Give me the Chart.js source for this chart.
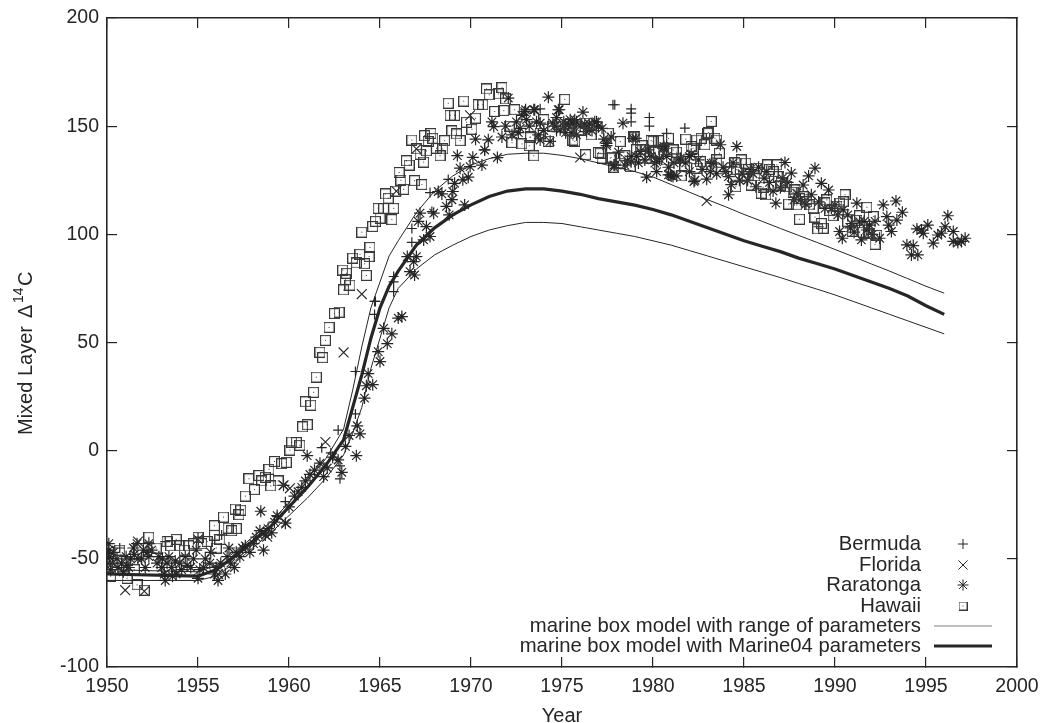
<!DOCTYPE html>
<html>
<head>
<meta charset="utf-8">
<title>Mixed Layer D14C</title>
<script src="https://cdn.jsdelivr.net/npm/chart.js@4"></script>
<style>
  html, body { margin: 0; padding: 0; background: #fff; }
  #box { width: 1045px; height: 723px; }
</style>
</head>
<body>
<div id="box"><canvas id="chart" width="1045" height="723"></canvas></div>
<script>
// values, [year, value]
const bermuda = [[1950.7,-45],[1953.2,-42],[1955,-40],[1956.3,-39],[1959.35,-30.5],[1959.8,-23.6],[1961.8,1.4],[1962.3,-1],[1962.7,9.5],[1962.8,-13],[1962.8,-7],
  [1963.65,17],[1963.65,36.6],[1964.7,63],[1964.7,69],[1964.75,69],[1965.75,73.5],[1965.75,78],[1965.75,80.5],[1966.75,96.3],[1966.75,102.7],[1967.75,119.3],[1967.85,110.5],
  [1968.75,125.4],[1970.75,139],[1973.8,158],[1974.7,147.5],[1977.8,159.9],[1977.9,159.9],[1978.8,152],[1978.8,156],[1978.8,158],[1979.8,150],[1979.8,154],[1980.75,142],[1980.75,146.7],[1981.75,149.1],[1989.1,103.5]];

const florida = [[1951,-64.5],[1951.7,-42],[1952.05,-65],[1955,-41],[1956.1,-57],[1958.8,-39.8],[1959.7,-16],[1959.85,-33.6],[1960.05,-17.4],[1962,4],[1963,45.4],[1964,72.4],
  [1965.9,120],[1967,139.5],[1969.95,155],[1976,135.5],[1977.85,131],[1982.95,115.4]];

const raratonga = [[1950,-47.5],[1950.05,-52],[1950.1,-43],[1950.1,-46],[1950.15,-49],[1950.2,-55],[1950.3,-52],[1950.35,-47],[1950.55,-50],[1950.6,-54],[1950.8,-52],[1950.9,-56],[1951.05,-49],[1951.1,-53],[1951.2,-54],[1951.3,-50],[1951.45,-45],[1951.5,-48],[1951.65,-43],[1951.7,-50],[1951.9,-50],[1952,-46],[1952.1,-54],[1952.2,-47],[1952.3,-43],[1952.3,-49],[1952.45,-46],
  [1952.75,-52],[1952.85,-49],[1953,-54],[1953.05,-50],[1953.15,-57],[1953.2,-60],[1953.3,-52],[1953.4,-49],[1953.55,-54],[1953.6,-58],[1953.75,-51],[1953.8,-57],[1954,-52],[1954.1,-55],[1954.3,-49],[1954.4,-53],[1954.6,-54],[1954.75,-50],[1954.9,-46],[1955,-59],[1955.1,-55],[1955.3,-54],[1955.4,-50],[1955.65,-52],[1955.7,-47],[1955.9,-57],[1956,-54],[1956.1,-60],[1956.25,-52],[1956.5,-57],[1956.6,-49],[1956.7,-45],[1956.8,-52],
  [1957,-54],[1957.1,-47],[1957.3,-49],[1957.45,-45],[1957.6,-44],[1957.85,-47],[1958.05,-43],[1958.2,-40],[1958.4,-37],[1958.45,-28],[1958.6,-46],[1958.7,-39],[1958.85,-36],[1959.05,-38],[1959.2,-33],[1959.35,-30],[1959.7,-16],[1959.8,-33.5],[1960,-26],[1960.3,-21],[1960.5,-19],[1960.7,-17],[1960.9,-14],
  [1961,-2.3],[1961.15,-11],[1961.4,-9],[1961.7,-5.8],[1961.9,-12],[1962.1,-8],[1962.4,-3],[1962.7,-4.3],[1962.9,-10],[1963.1,2],[1963.3,7],[1963.7,-2.3],[1963.75,11.5],[1963.9,7.8],[1964.15,24.3],[1964.25,30],[1964.35,35.6],[1964.6,30.5],[1964.9,45.8],[1965,41.2],
  [1965.2,56.5],[1965.4,49.5],[1965.65,54],[1966,61.3],[1966.2,62],[1966.5,89.7],[1966.65,82.8],[1966.85,87.4],[1966.9,81.2],[1967,89.7],[1967.1,106],[1967.2,109.8],[1967.4,97.4],[1967.55,103.6],[1967.75,99],[1967.95,109.8],
  [1968.2,119.8],[1968.4,118.7],[1968.65,112.9],[1968.8,109],[1968.95,116],[1969,119.8],[1969.1,123.6],[1969.25,136.4],[1969.4,130.6],[1969.55,125.2],[1969.65,113.6],[1969.85,126.4],[1969.95,131.3],[1970.1,135.6],
  [1970.25,144],[1970.6,132],[1970.75,139],[1970.95,143.7],[1971.15,152],[1971.25,149.8],[1971.45,135.5],[1971.7,145],[1971.9,150],[1972.05,163],[1972.25,146],[1972.5,152],[1972.6,147],[1972.7,149],[1972.8,155],[1972.95,156.7],[1973,157.6],[1973.05,153],[1973.2,150],
  [1973.45,157.6],[1973.5,157.6],[1973.6,152],[1973.7,146],[1973.8,151.4],[1973.8,143.6],[1974,148],[1974.25,163.4],[1974.35,143],[1974.5,151.4],[1974.6,150],[1974.7,154],[1974.8,157.6],[1974.85,157.6],[1974.9,148.4],[1975.1,152],[1975.1,150],[1975.2,147],[1975.35,150.6],[1975.45,153],[1975.5,147],[1975.6,151],[1975.7,153],[1975.8,146],[1975.8,152],[1976,150],[1976.15,156.5],
  [1976.25,151],[1976.35,147.5],[1976.5,151],[1976.65,148],[1976.8,152],[1976.9,152],[1977,150],[1977.2,149],[1977.3,144],[1977.45,142],[1977.45,141],[1977.7,145],[1977.85,132],[1977.9,132],[1978.1,138],[1978.35,151.4],[1978.45,132],[1978.6,134],[1978.8,136],[1978.8,133.6],[1978.9,144.4],[1979.05,144.4],[1979.1,136],[1979.2,133],[1979.3,138.3],[1979.55,134.4],[1979.65,126.4],
  [1979.75,139],[1979.9,136],[1980.1,132.9],[1980.2,129],[1980.2,133.6],[1980.35,135],[1980.55,139.8],[1980.6,140.6],[1980.65,139.8],[1980.75,136],[1980.85,131],[1980.85,127.5],[1980.95,127.5],[1981,127],[1981.1,126.7],[1981.15,133],[1981.3,127],[1981.5,135.2],[1981.5,134.4],[1981.8,133],[1982,129],[1982,136],[1982.1,137],[1982.25,124.4],[1982.3,125],[1982.5,134.4],[1982.7,130],[1982.95,125.5],
  [1983.15,129],[1983.2,132.8],[1983.3,133],[1983.5,128],[1983.7,141.4],[1983.85,131],[1984,129],[1984.15,118.3],[1984.15,126.7],[1984.3,123],[1984.4,133],[1984.6,140.6],[1984.75,125],[1984.9,128],[1985.2,125],[1985.35,130],[1985.5,128],[1985.65,122],[1985.8,131],[1986.1,126],[1986.25,129],[1986.4,124],[1986.6,120],[1986.75,114.4],[1987,121.5],[1987.1,126],[1987.25,133.2],
  [1987.4,124],[1987.6,128.3],[1987.75,116],[1987.9,119],[1988.1,116],[1988.25,122.8],[1988.4,114],[1988.55,127],[1988.7,118.3],[1988.9,130.6],[1989.1,115],[1989.25,123.6],[1989.45,112],[1989.65,120.5],[1989.8,112],[1990,113.6],[1990.15,109],[1990.25,101.3],[1990.4,98.2],[1990.45,111.3],
  [1990.7,109],[1990.85,103],[1990.9,105],[1991.05,101],[1991.2,114.4],[1991.35,105.8],[1991.45,97.4],[1991.6,106],[1991.75,102],[1991.9,104.3],[1992.05,100],[1992.2,106],[1992.45,98.2],[1992.65,113.6],[1992.85,108.2],[1992.95,104.3],[1993.1,101.3],[1993.35,115.4],[1993.4,106.6],[1993.7,110.2],
  [1993.95,95.1],[1994.2,90.5],[1994.3,94.8],[1994.5,102.5],[1994.55,90.5],[1994.75,102],[1994.85,100.5],[1995.1,104.3],[1995.4,95.9],[1995.65,99.7],[1995.85,100.5],[1996.05,103.5],[1996.2,108.6],[1996.5,96.7],[1996.5,101.3],
  [1996.75,96.2],[1996.95,96.7],[1997.15,98.2]];

const hawaii = [[1950,-54],[1950.2,-58],[1950.7,-46],[1951.1,-59],[1951.5,-55],[1951.65,-62],[1952.05,-64.5],[1952.3,-40],[1952.7,-45],[1953.3,-42],[1953.5,-44],[1953.8,-41],[1954,-44],[1954.25,-46],[1954.5,-44],[1954.75,-43],[1955,-40],[1955.2,-43],[1955.5,-42],[1955.9,-39],[1955.9,-34.7],[1956,-45],[1956.2,-41],
  [1956.4,-30.7],[1956.65,-35.8],[1956.85,-37],[1957.05,-27],[1957.1,-36],[1957.25,-29.6],[1957.35,-27.5],[1957.6,-21],[1957.8,-13],[1958.1,-18],[1958.35,-11.5],[1958.5,-14],[1958.7,-12.3],[1958.9,-8.6],[1959,-16.3],[1959.2,-5],[1959.4,-14],
  [1959.6,-6],[1959.85,-5.4],[1960.05,0.3],[1960.15,4],[1960.4,3.8],[1960.6,2.5],[1960.75,11],[1960.9,22.6],[1961,12],[1961.2,21],[1961.35,27],[1961.5,34],[1961.7,45.5],[1961.85,43],[1962,51],[1962.2,57],[1962.5,63.4],[1962.75,64],
  [1962.95,83.5],[1963,74.3],[1963.1,79],[1963.15,82],[1963.35,76.5],[1963.5,89],[1963.7,86.8],[1963.9,90.8],[1964,101],[1964.15,86.4],[1964.25,81],[1964.4,89.7],[1964.45,94],[1964.6,103.6],[1964.75,106],[1964.9,112],[1965,107.5],[1965.2,112],
  [1965.3,118.7],[1965.45,116.7],[1965.65,106.8],[1965.75,112],[1965.85,120],[1966.05,128.6],[1966.15,125],[1966.3,120.8],[1966.45,134],[1966.6,132],[1966.75,143.6],[1966.9,124.8],[1967,139.5],[1967.2,137],[1967.3,123],[1967.4,133.4],
  [1967.45,145.6],[1967.55,138.6],[1967.65,142.9],[1967.8,146.6],[1967.9,144.4],[1968.1,139.8],[1968.3,136.3],[1968.45,139.5],[1968.55,143.3],[1968.75,160.6],[1968.85,155],[1968.95,147.8],[1969.1,155],[1969.2,146.4],[1969.4,143.3],
  [1969.6,161.6],[1969.75,151.8],[1970.05,148.6],[1970.25,153.7],[1970.4,159.9],[1970.65,159.9],[1970.85,167.2],[1971,164.5],[1971.3,156.8],[1971.5,164.9],[1971.7,167.8],[1971.8,157.2],[1971.9,162.6],[1972.1,150],[1972.25,142.4],[1972.4,157.6],
  [1972.8,141.8],[1973.2,141],[1973.25,144.8],[1973.25,145],[1973.45,136.3],[1973.8,146.7],[1974,153],[1974.25,143],[1974.5,150],[1974.8,151],[1975.15,162.4],[1975.4,148],[1975.45,151.4],[1975.6,143.6],[1975.7,143],[1975.9,148],[1976,148],[1976.3,136.8],[1976.35,151.4],[1976.6,146],[1977,137.8],[1977.1,137.5],[1977.2,135.2],[1977.55,146.7],[1977.65,135.2],[1977.7,135.6],[1977.85,131],
  [1978.2,142.9],[1978.2,132.9],[1978.45,136.3],[1978.75,131.3],[1978.95,145],[1979,145],[1979.1,139.1],[1979.3,139],[1979.4,141],[1979.85,135.2],[1979.9,143.3],[1980,143],[1980.1,138],[1980.3,143.3],[1980.3,138],[1980.55,139],[1980.75,134.4],[1980.85,144.4],[1981.1,139],[1981.3,135.2],[1981.3,138],[1981.55,127],[1981.75,131.3],[1981.8,144],
  [1982.1,140.6],[1982.2,139.8],[1982.4,130.6],[1982.4,143.6],[1982.6,133.6],[1982.65,144.4],[1982.85,141.4],[1983,146.7],[1983.05,147],[1983.2,152.2],[1983.2,131.3],[1983.4,144.4],[1983.5,134.4],[1983.5,143.6],[1983.65,137.5],[1984.25,129],[1984.5,133],[1984.55,122],[1984.6,129.9],[1984.85,134.4],[1984.95,126.7],[1985.1,132.9],[1985.25,130],[1985.4,122.8],[1985.6,127],
  [1985.7,130.6],[1985.95,119],[1986.05,121.8],[1986.2,118.3],[1986.3,132.1],[1986.4,130],[1986.6,129],[1986.8,132.1],[1986.9,126.7],[1987,122.8],[1987.05,124],[1987.35,122],[1987.45,114],[1987.7,119.5],[1987.8,120.5],[1987.9,113.6],[1988.05,107],[1988.05,116.5],[1988.25,117.4],[1988.45,115],[1988.6,113.6],[1988.8,112],[1988.9,108],
  [1989.05,102.5],[1989.25,105],[1989.35,102.8],[1989.45,114.5],[1989.55,115.9],[1989.7,111],[1989.9,108.6],[1990.1,113],[1990.25,114.4],[1990.45,115],[1990.55,118.3],[1990.7,106],[1990.95,101.4],[1991.2,106.5],[1991.35,108.6],[1991.55,101],[1991.75,112.5],[1991.85,100.5],[1991.9,100.2],[1992.1,108.2],[1992.2,95.4],[1992.3,99.5]];

const modelYears = [1950,1955,1956,1957,1958,1959,1960,1961,1962,1963,1963.5,1964,1964.5,1965,1965.5,1966,1967,1968,1969,1970,1971,1972,1973,1974,1975,1976,1977,1978,1979,1980,1981,1982,1983,1984,1985,1986,1987,1988,1989,1990,1991,1992,1993,1994,1995,1996];
const modelHigh  = [-55,-56,-53,-47,-40,-33,-24,-14,-4,10,28,48,66,78,90,97,110,120,127,132,135,137,137.5,137.5,136.5,135,133,131,129,126.5,123,119.5,116,112.7,109.2,106,102.7,99.5,96.3,93,89.7,86.3,83,79.5,76,72.8];
const modelMid   = [-57,-58,-55,-49,-42,-35,-26,-17,-7,5,20,35,52,66,76,83,95,103,109,113.6,117.5,120,121,121,120,118.5,116.5,115,113.5,111.5,109,106,103,100,97,94.5,92,89,86.5,84,81,78,75,71.5,67,63];
const modelLow   = [-60,-60,-58,-52,-45,-38,-30,-22,-13,-2,8,20,38,52,66,75,84,90.5,95,99,102,104,105.5,105.5,105,103.5,102,100.5,99,97,95,92.5,90,87.5,85,82.5,80,77.3,74.7,72,69,66,63,60,57,54];

const legendLabels = ["Bermuda","Florida","Raratonga","Hawaii","marine box model with range of parameters","marine box model with Marine04 parameters"];
const xTicks = { min: 1950, max: 2000, step: 5 };
const yTicks = { min: -100, max: 200, step: 50 };

const ink = "#262626";
const fontName = "'Liberation Sans', Arial, sans-serif";

const toPoints = (rows) => rows.map((r) => ({ x: r[0], y: r[1] }));
const modelPoints = (vals) => modelYears.map((yr, i) => ({ x: yr, y: vals[i] }));

// gnuplot square with a dot in the middle
function squareDot(w, lw) {
    const c = document.createElement("canvas");
    c.width = w; c.height = w;
    const g = c.getContext("2d");
    g.strokeStyle = "#383838";
    g.lineWidth = lw;
    g.strokeRect(0.5, 0.5, w - 1, w - 1);
    g.fillStyle = "#383838";
    g.fillRect((w - 1) / 2, (w - 1) / 2, 1, 1);
    return c;
}
const squareMark = squareDot(11, 1.3);
const squareKey = squareDot(9, 1);

function scatterSet(label, rows, style, radius, width) {
    return {
        type: "scatter", label: label, data: toPoints(rows),
        pointStyle: style, pointRadius: radius, pointBorderColor: ink,
        pointBackgroundColor: "rgba(0,0,0,0)", pointBorderWidth: width, showLine: false
    };
}
function lineSet(label, vals, width) {
    return {
        type: "line", label: label, data: modelPoints(vals),
        borderColor: ink, borderWidth: width, pointRadius: 0, tension: 0, fill: false
    };
}

// gnuplot-like key, right aligned text with samples beside it
const keyPlugin = {
    id: "key",
    afterDatasetsDraw(chart) {
        const ctx = chart.ctx;
        const rowsY = [544, 565, 585, 606, 626, 646];
        const marks = [["cross", 5], ["crossRot", 6.5], ["star", 5.5], [squareKey, 5]];
        ctx.save();
        ctx.font = "20.3px " + fontName;
        ctx.fillStyle = ink;
        ctx.textAlign = "right";
        ctx.textBaseline = "middle";
        legendLabels.forEach((txt, i) => ctx.fillText(txt, 921, rowsY[i]));
        marks.forEach((m, i) => {
            ctx.strokeStyle = ink;
            ctx.lineWidth = 1;
            Chart.helpers.drawPoint(ctx, { pointStyle: m[0], radius: m[1], borderWidth: 1 }, 963, rowsY[i]);
        });
        ctx.strokeStyle = "#808080";
        ctx.lineWidth = 1.2;
        ctx.beginPath(); ctx.moveTo(934, rowsY[4]); ctx.lineTo(992, rowsY[4]); ctx.stroke();
        ctx.strokeStyle = ink;
        ctx.lineWidth = 3;
        ctx.beginPath(); ctx.moveTo(934, rowsY[5]); ctx.lineTo(992, rowsY[5]); ctx.stroke();

        // y title, built in pieces because of the superscript
        ctx.translate(32, 435);
        ctx.rotate(-Math.PI / 2);
        ctx.textAlign = "left";
        ctx.textBaseline = "alphabetic";
        ctx.font = "20px " + fontName;
        ctx.fillText("Mixed Layer", 0, 0);
        ctx.fillText("\u0394", 117, 0);
        ctx.font = "14px " + fontName;
        ctx.fillText("14", 132, -9);
        ctx.font = "20px " + fontName;
        ctx.fillText("C", 149, 0);
        ctx.restore();
    }
};

const sideGrid = { drawOnChartArea: false, tickLength: -10, color: ink, lineWidth: 1.2 };
const sideBorder = { display: true, color: ink, width: 1.6 };

// the axis keeps room for half its end labels otherwise
function noLabelRoom(s) {
    s.paddingLeft = 0; s.paddingRight = 0; s.paddingTop = 0; s.paddingBottom = 0;
}

new Chart(document.getElementById("chart").getContext("2d"), {
    data: {
        datasets: [
            lineSet("marine box model with Marine04 parameters", modelMid, 3.2),
            lineSet("upper", modelHigh, 1),
            lineSet("lower", modelLow, 1),
            scatterSet("Hawaii", hawaii, squareMark, 5, 1.3),
            scatterSet("Raratonga", raratonga, "star", 6, 1.2),
            scatterSet("Florida", florida, "crossRot", 7, 1.1),
            scatterSet("Bermuda", bermuda, "cross", 5, 1.2)
        ]
    },
    options: {
        responsive: false,
        animation: false,
        layout: { padding: { top: 18, right: 28, left: 0, bottom: 0 } },
        plugins: { legend: { display: false }, tooltip: { enabled: false } },
        scales: {
            x: {
                type: "linear", position: "bottom", min: xTicks.min, max: xTicks.max,
                grid: sideGrid, border: sideBorder,
                ticks: { stepSize: xTicks.step, color: ink, font: { family: fontName, size: 19.5 }, padding: 18, maxRotation: 0, callback: (v) => String(v) },
                title: { display: true, text: "Year", color: ink, font: { family: fontName, size: 20 }, padding: { top: 0, bottom: -5 } },
                afterFit: (s) => { s.height = 56; noLabelRoom(s); }
            },
            y: {
                type: "linear", position: "left", min: yTicks.min, max: yTicks.max,
                grid: sideGrid, border: sideBorder,
                ticks: { stepSize: yTicks.step, color: ink, font: { family: fontName, size: 19.5 }, padding: 18 },
                afterFit: (s) => { s.width = 107; noLabelRoom(s); }
            },
            x2: {
                type: "linear", position: "top", min: xTicks.min, max: xTicks.max,
                grid: sideGrid, border: sideBorder,
                ticks: { display: false, stepSize: xTicks.step },
                afterFit: (s) => { s.height = 0; noLabelRoom(s); }
            },
            y2: {
                type: "linear", position: "right", min: yTicks.min, max: yTicks.max,
                grid: sideGrid, border: sideBorder,
                ticks: { display: false, stepSize: yTicks.step },
                afterFit: (s) => { s.width = 0; noLabelRoom(s); }
            }
        }
    },
    plugins: [keyPlugin]
});
</script>
</body>
</html>
